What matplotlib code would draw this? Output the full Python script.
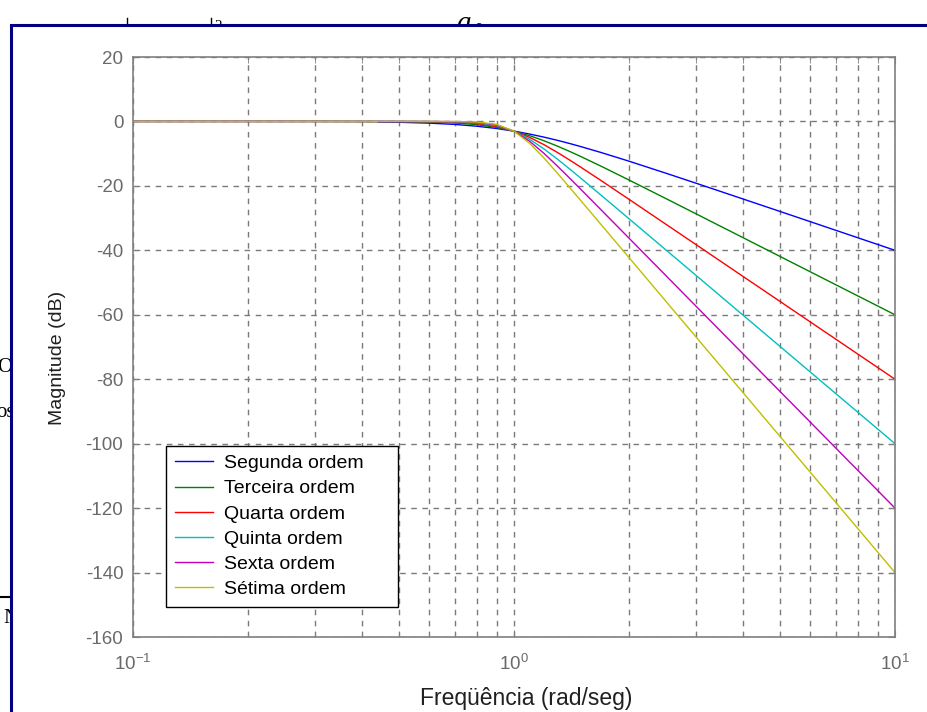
import matplotlib
matplotlib.use("Agg")
import matplotlib.pyplot as plt
from matplotlib.patches import Rectangle
from matplotlib.lines import Line2D
from matplotlib.ticker import FixedLocator, FixedFormatter, LogLocator, NullFormatter

# frequencies (rad/s)
freq = [0.1, 0.3, 0.5, 0.6, 0.7, 0.8, 0.9, 1.0, 1.1, 1.2, 1.3, 1.4, 1.5,
        1.7, 2.0, 2.5, 3.0, 4.0, 5.0, 7.0, 10.0]
freq2 = [0.44, 0.5, 0.6, 0.7, 0.8, 0.9, 1.0, 1.1, 1.2, 1.3, 1.4, 1.5,
         1.7, 2.0, 2.5, 3.0, 4.0, 5.0, 7.0, 10.0]

# magnitude in dB
seg = [-0.16, -0.26, -0.53, -0.93, -1.49, -2.19, -3.01, -3.92, -4.88, -5.86, -6.85,
       -7.83, -9.71, -12.3, -16.03, -19.14, -24.1, -27.96, -33.8, -40.0]
ter = [0.0, 0.0, -0.07, -0.2, -0.48, -1.01, -1.85, -3.01, -4.43, -6.01, -7.66, -9.31,
       -10.93, -14.0, -18.13, -23.89, -28.63, -36.12, -41.94, -50.71, -60.0]
qua = [0.0, 0.0, -0.02, -0.07, -0.24, -0.67, -1.56, -3.01, -4.97, -7.24, -9.62, -11.98,
       -14.25, -18.5, -24.1, -31.84, -38.17, -48.17, -55.92, -67.61, -80.0]
qui = [0.0, 0.0, 0.0, -0.03, -0.12, -0.44, -1.3, -3.01, -5.56, -8.57, -11.7, -14.76,
       -17.68, -23.07, -30.11, -39.79, -47.71, -60.21, -69.9, -84.51, -100.0]
sex = [0.0, 0.0, 0.0, -0.01, -0.06, -0.29, -1.08, -3.01, -6.17, -9.96, -13.86, -17.61,
       -21.16, -27.66, -36.12, -47.75, -57.26, -72.25, -83.88, -101.41, -120.0]
set7 = [0.0, 0.0, 0.0, 0.0, -0.03, -0.19, -0.9, -3.01, -6.81, -11.41, -16.06, -20.5,
        -24.67, -32.27, -42.14, -55.71, -66.8, -84.29, -97.86, -118.31, -140.0]

labels = ["Segunda ordem", "Terceira ordem", "Quarta ordem",
          "Quinta ordem", "Sexta ordem", "Sétima ordem"]
colors = ["#0000ff", "#008000", "#ff0000", "#00bfbf", "#bf00bf", "#bfbf00"]

yticks = [20, 0, -20, -40, -60, -80, -100, -120, -140, -160]

plt.rcParams["font.family"] = ["Liberation Sans", "DejaVu Sans"]
plt.rcParams["mathtext.fontset"] = "custom"
plt.rcParams["mathtext.rm"] = "Liberation Sans"
plt.rcParams["axes.unicode_minus"] = False

W, H = 928, 712
fig = plt.figure(figsize=(W / 100, H / 100), dpi=100)


def fx(px):
    return px / W


def fy(py):
    return 1 - py / H


# bits of document text peeking out around the figure
serif = ["Liberation Serif", "DejaVu Serif"]
fig.text(fx(463), fy(31), "a", family=serif, style="italic", fontsize=21,
         ha="center", va="baseline", zorder=0.5)
fig.text(fx(479), fy(34), "0", family=serif, fontsize=12,
         ha="center", va="baseline", zorder=0.5)
fig.text(fx(218), fy(30), "2", family=serif, fontsize=11,
         ha="center", va="baseline", zorder=0.5)
for xx in [127, 211]:
    fig.add_artist(Line2D([fx(xx), fx(xx)], [fy(18), fy(30)], color="black",
                          lw=1, zorder=0.5))
fig.text(fx(-3), fy(372), "O", family=serif, fontsize=15, ha="left",
         va="baseline", zorder=0.5)
fig.text(fx(-4), fy(417), "os", family=serif, fontsize=15, ha="left",
         va="baseline", zorder=0.5)
fig.add_artist(Line2D([0, fx(12)], [fy(597), fy(597)], color="black",
                      lw=1.5, zorder=0.5))
fig.text(fx(3), fy(623), "N", family=serif, fontsize=15, ha="left",
         va="baseline", zorder=0.5)

# white page area and navy frame
fig.add_artist(Rectangle((fx(13), 0), 1, fy(26), transform=fig.transFigure,
                         facecolor="white", edgecolor="none", zorder=0.8))
fig.add_artist(Line2D([fx(11.5), fx(11.5), 1.0], [0, fy(24.5), fy(24.5)],
                      color="#000080", lw=2.2, zorder=0.9,
                      solid_joinstyle="miter"))

ax = fig.add_axes([fx(133), fy(637), fx(895) - fx(133), fy(57) - fy(637)])
ax.set_zorder(2)

ax.plot(freq2, seg, color=colors[0], lw=1.0, label=labels[0])
ax.plot(freq, ter, color=colors[1], lw=1.0, label=labels[1])
ax.plot(freq, qua, color=colors[2], lw=1.0, label=labels[2])
ax.plot(freq, qui, color=colors[3], lw=1.0, label=labels[3])
ax.plot(freq, sex, color=colors[4], lw=1.0, label=labels[4])
ax.plot(freq, set7, color=colors[5], lw=1.0, label=labels[5])

ax.set_xscale("log")
ax.set_xlim(0.1, 10)
ax.set_ylim(-160, 20)
ax.yaxis.set_major_locator(FixedLocator(yticks))
ax.xaxis.set_major_locator(FixedLocator([0.1, 1, 10]))
ax.xaxis.set_major_formatter(FixedFormatter([r"$\mathregular{10^{-1}}$",
                                             r"$\mathregular{10^{0}}$",
                                             r"$\mathregular{10^{1}}$"]))
ax.xaxis.set_minor_locator(LogLocator(base=10, subs=range(2, 10)))
ax.xaxis.set_minor_formatter(NullFormatter())

ax.grid(True, which="both", color="#7a7a7a", ls=(0, (4, 4)), lw=1.0)
ax.tick_params(which="both", direction="in", top=True, right=True,
               colors="#808080", labelcolor="#6a6a6a", labelsize=13.5, pad=7)
ax.tick_params(axis="x", which="major", pad=12)
ax.tick_params(which="major", length=5)
ax.tick_params(which="minor", length=4)
for sp in ax.spines.values():
    sp.set_color("#808080")
    sp.set_linewidth(1.2)

ax.set_xlabel("Freqüência (rad/seg)", fontsize=16.5, color="#202020")
ax.set_ylabel("Magnitude (dB)", fontsize=14, color="#202020")
ax.xaxis.set_label_coords(0.516, -0.087)
ax.yaxis.set_label_coords(-0.088, 0.481)

leg = ax.legend(loc="lower left", mode="expand",
                bbox_to_anchor=(0.0433, 0.052, 0.3045, 0.28), fontsize=14,
                fancybox=False, framealpha=1, edgecolor="black",
                handlelength=1.95, handletextpad=0.6, labelspacing=0.39,
                borderpad=0.45, borderaxespad=0)
leg.get_frame().set_linewidth(1.0)

fig.savefig("out.png", dpi=100)
